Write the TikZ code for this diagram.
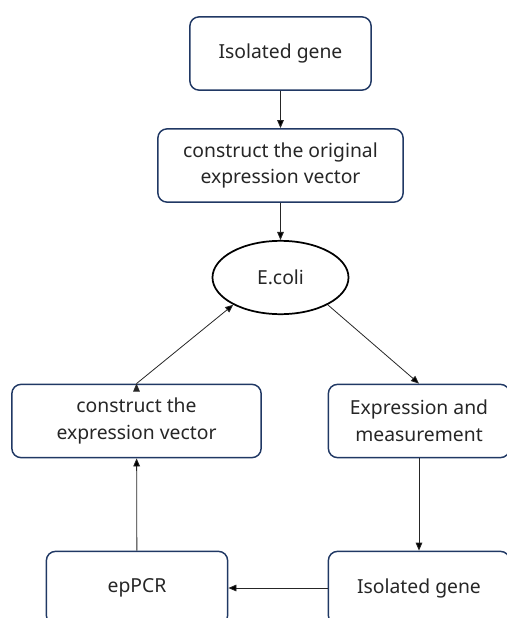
\documentclass[tikz,border=0pt]{standalone}
\usepackage{fontspec}
\setmainfont{Noto Sans}
\usetikzlibrary{arrows.meta, positioning, shapes.geometric}
\definecolor{boxline}{HTML}{203864}

\begin{document}
\begin{tikzpicture}[
        x=0.75pt, y=-0.75pt, node distance=84pt, on grid,
        >={Triangle[length=6pt,width=5pt]},
        every node/.style={font=\fontsize{14.5}{20}\selectfont, align=center, text=black!85},
        box/.style={draw=boxline, line width=1.1pt, rounded corners=7pt,
            minimum width=136pt, minimum height=55pt, inner sep=2pt},
        cell/.style={draw, line width=1.3pt, ellipse, minimum width=102pt, minimum height=55pt},
        link/.style={->, draw=black!85, line width=0.6pt},
        ]
        \useasboundingbox (0,0) rectangle (507,618);
        \clip (0,0) rectangle (507,618);

        \node[box]                       (gene)  at (280.5,53.5)  {Isolated gene};
        \node[box, minimum width=184pt]  (orig)  [below=of gene] {construct the original\\expression vector};
        \node[cell]                      (ecoli) [below=of orig]  {E.coli};
        \node[box, minimum width=187pt]  (build) at (136.5,421)   {construct the\\expression vector};
        \node[box]                       (expr)  at (419,421)     {Expression and\\measurement};
        \node[box]                       (gene2) at (419,588)     {Isolated gene};
        \node[box]                       (ep)    at (137,588)     {epPCR};

        \path[link] (gene) edge (orig)
                    (orig) edge (ecoli)
                    (ecoli.330) edge (expr.north)
                    (expr) edge (gene2)
                    (gene2) edge (ep)
                    (ep) edge (build)
                    (build.north) edge (ecoli.210);
      \end{tikzpicture}
\end{document}
